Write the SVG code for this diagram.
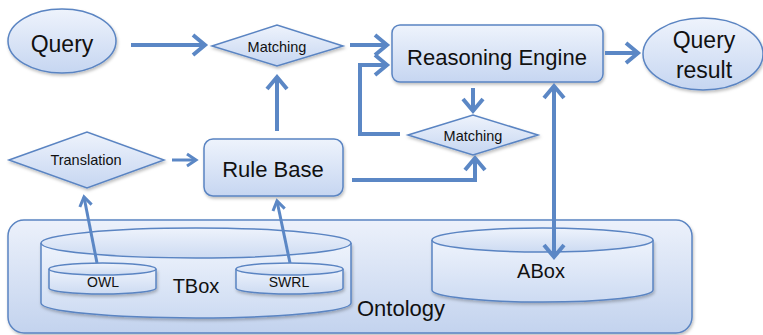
<svg xmlns="http://www.w3.org/2000/svg" width="763" height="335" viewBox="0 0 763 335">
<style>
.node{stroke:#5a84c2;stroke-width:1.5;}
.fillg{fill:url(#g1);}
.cyl{fill:url(#g2);stroke:#5a84c2;stroke-width:1.5;}
.t{font-family:"Liberation Sans",Arial,sans-serif;fill:#111;text-anchor:middle;}
.big{font-size:22px;}
.mid{font-size:20px;}
.sm{font-size:14.5px;}
.conn{fill:none;stroke:#5b87c5;stroke-width:4;}
.thin{stroke-width:3;}
</style>
<defs>
<linearGradient id="g1" x1="0" y1="0" x2="0" y2="1">
<stop offset="0" stop-color="#eef3fc"/>
<stop offset="1" stop-color="#c6d6f1"/>
</linearGradient>
<linearGradient id="g2" x1="0" y1="0" x2="0" y2="1">
<stop offset="0" stop-color="#eef3fc"/>
<stop offset="1" stop-color="#cddbf2"/>
</linearGradient>
<linearGradient id="g3" x1="0" y1="0" x2="0" y2="1">
<stop offset="0" stop-color="#ecf1fb"/>
<stop offset="1" stop-color="#c3d3ee"/>
</linearGradient>
<filter id="sh" x="-10%" y="-10%" width="120%" height="130%">
<feDropShadow dx="1" dy="2" stdDeviation="1.5" flood-color="#000" flood-opacity="0.25"/>
</filter>
<marker id="ah" markerUnits="userSpaceOnUse" markerWidth="30" markerHeight="30" viewBox="-20 -15 30 30" refX="0" refY="0" orient="auto-start-reverse" overflow="visible">
<path d="M-12,-10 L0,0 L-12,10" fill="none" stroke="#5b87c5" stroke-width="4"/>
</marker>
<marker id="ahs" markerUnits="userSpaceOnUse" markerWidth="30" markerHeight="30" viewBox="-20 -15 30 30" refX="0" refY="0" orient="auto-start-reverse" overflow="visible">
<path d="M-9,-6 L0,0 L-9,6" fill="none" stroke="#5b87c5" stroke-width="3"/>
</marker>
</defs>

<g id="ontology">
<rect x="8" y="220" width="684" height="113" rx="16" fill="url(#g3)" stroke="#5a84c2" stroke-width="1.5" filter="url(#sh)"/>
<text class="t big" x="357" y="316" style="text-anchor:start">Ontology</text>
</g>

<g id="tbox">
<path class="cyl" d="M41,243 L41,303 A155,15 0 0 0 351,303 L351,243" filter="url(#sh)"/>
<ellipse class="cyl" cx="196" cy="243" rx="155" ry="15"/>
<text class="t mid" x="196" y="293">TBox</text>
</g>

<g id="owl">
<path class="cyl" d="M49,269 L49,288 A53.5,6 0 0 0 156,288 L156,269" filter="url(#sh)"/>
<ellipse class="cyl" cx="102.5" cy="269" rx="53.5" ry="6"/>
<text class="t" x="103" y="287" style="font-size:14px">OWL</text>
</g>

<g id="swrl">
<path class="cyl" d="M236,269 L236,288 A53.5,6 0 0 0 343,288 L343,269" filter="url(#sh)"/>
<ellipse class="cyl" cx="289.5" cy="269" rx="53.5" ry="6"/>
<text class="t" x="289" y="287" style="font-size:14px">SWRL</text>
</g>

<g id="abox">
<path class="cyl" d="M432,240 L432,290 A110.5,12 0 0 0 653,290 L653,240" filter="url(#sh)"/>
<ellipse class="cyl" cx="542.5" cy="240" rx="110.5" ry="12"/>
<text class="t mid" x="541" y="278">ABox</text>
</g>

<g id="query">
<ellipse class="node fillg" cx="62" cy="41" rx="54" ry="32" filter="url(#sh)"/>
<text class="t" x="62" y="52" style="font-size:23px">Query</text>
</g>

<g id="matching1">
<polygon class="node fillg" points="212,46 277,25 343,46 277,66" filter="url(#sh)"/>
<text class="t sm" x="277" y="52">Matching</text>
</g>

<g id="reasoning">
<rect class="node fillg" x="392" y="25" width="211" height="57" rx="8" filter="url(#sh)"/>
<text class="t big" x="497" y="65">Reasoning Engine</text>
</g>

<g id="queryresult">
<ellipse class="node fillg" cx="703" cy="54" rx="60" ry="36" filter="url(#sh)"/>
<text class="t" x="704" y="48" style="font-size:23px">Query</text>
<text class="t" x="704" y="78" style="font-size:23px">result</text>
</g>

<g id="matching2">
<polygon class="node fillg" points="408,135 473,115 538,135 473,155" filter="url(#sh)"/>
<text class="t sm" x="473" y="141">Matching</text>
</g>

<g id="translation">
<polygon class="node fillg" points="9,160 87,132 164,160 87,188" filter="url(#sh)"/>
<text class="t sm" x="86" y="165">Translation</text>
</g>

<g id="rulebase">
<rect class="node fillg" x="204" y="139" width="139" height="57" rx="9" filter="url(#sh)"/>
<text class="t big" x="273" y="177">Rule Base</text>
</g>

<g id="connectors">
<line class="conn" x1="131" y1="45" x2="205" y2="45" marker-end="url(#ah)"/>
<line class="conn" x1="350" y1="45" x2="387" y2="45" marker-end="url(#ah)"/>
<polyline class="conn" points="400,134 360,134 360,65 387,65" marker-end="url(#ah)"/>
<line class="conn" x1="605" y1="53" x2="638" y2="53" marker-end="url(#ah)"/>
<line class="conn" x1="473" y1="88" x2="473" y2="111" marker-end="url(#ah)"/>
<line class="conn" x1="554" y1="86" x2="554" y2="257" marker-start="url(#ah)" marker-end="url(#ah)"/>
<line class="conn" x1="277" y1="131" x2="277" y2="77" marker-end="url(#ah)"/>
<polyline class="conn" points="352,180 475,180 475,158" marker-end="url(#ah)"/>
<line class="conn thin" x1="172" y1="160" x2="196" y2="160" marker-end="url(#ahs)"/>
<line class="conn thin" x1="97" y1="263" x2="84" y2="197" marker-end="url(#ahs)"/>
<line class="conn thin" x1="290" y1="263" x2="277" y2="201" marker-end="url(#ahs)"/>
</g>
</svg>
